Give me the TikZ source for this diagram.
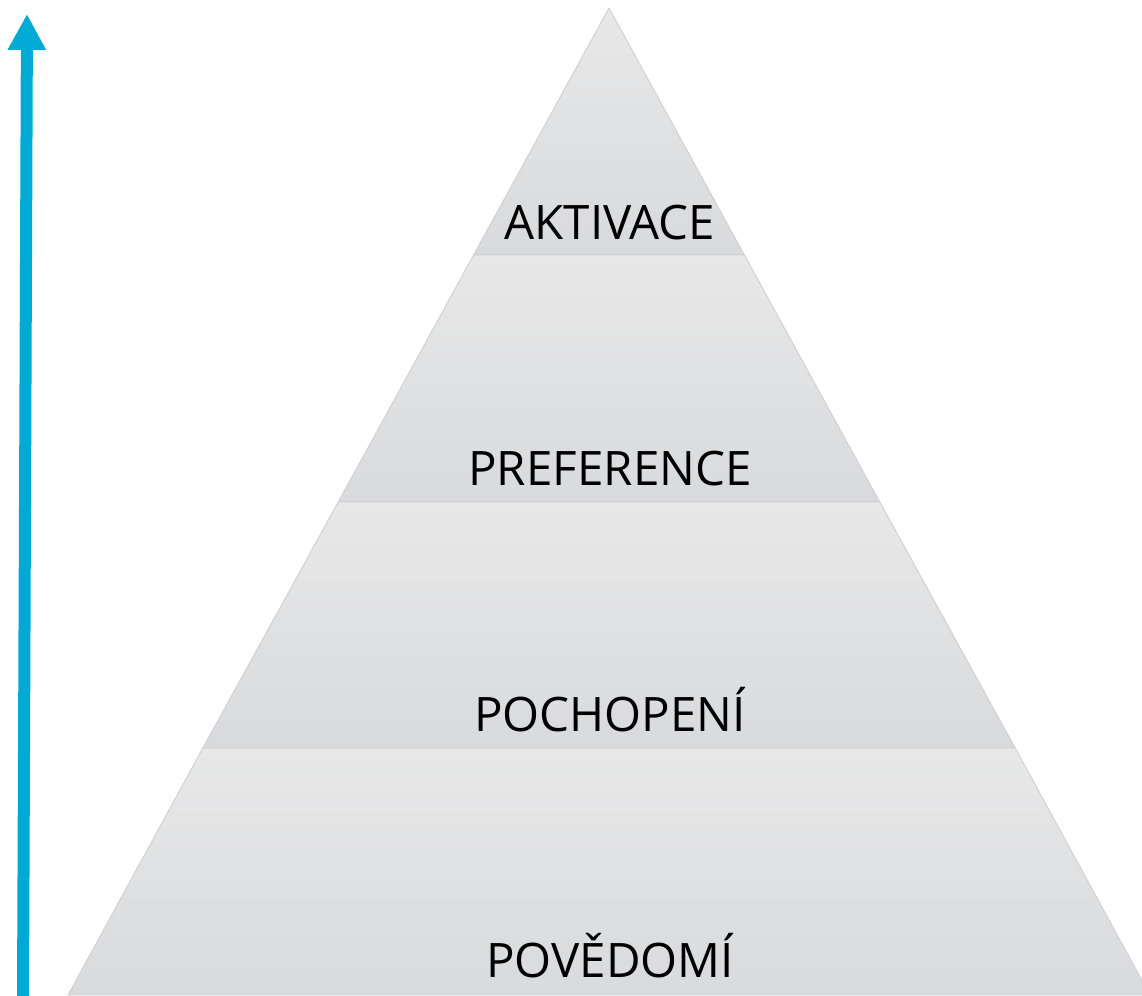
\documentclass[tikz,border=0pt]{standalone}
\usepackage{fontspec}
\setmainfont{Open Sans}
\usetikzlibrary{arrows.meta}
\definecolor{arrowblue}{RGB}{0,170,212}
\definecolor{bandtop}{RGB}{232,232,232}
\definecolor{bandbot}{RGB}{216,218,221}
\definecolor{bandedge}{RGB}{205,205,205}
\tikzset{
  band/.style={top color=bandtop, bottom color=bandbot, draw=bandedge, line width=0.8pt, line join=round},
  lbl/.style={font=\fontsize{47.5}{52}\selectfont, text=black, inner sep=0pt, anchor=base},
  uparrow/.style={draw=arrowblue, line width=12pt, -{Triangle[width=36pt,length=36pt]}}
}
\begin{document}
\begin{tikzpicture}[x=1pt,y=-1pt]
\useasboundingbox (0,0) rectangle (1142,995);
\clip (0,0) rectangle (1142,995);
% pyramid bands
\coordinate (apex) at (609,8);
\coordinate (l1) at (473.6,255); \coordinate (r1) at (744.4,255);
\coordinate (l2) at (338.2,502); \coordinate (r2) at (879.8,502);
\coordinate (l3) at (202.8,748); \coordinate (r3) at (1015.2,748);
\coordinate (l4) at (68,995);    \coordinate (r4) at (1150,995);
\path[band] (apex) -- (r1) -- (l1) -- cycle;
\path[band] (l1) -- (r1) -- (r2) -- (l2) -- cycle;
\path[band] (l2) -- (r2) -- (r3) -- (l3) -- cycle;
\path[band] (l3) -- (r3) -- (r4) -- (l4) -- cycle;
% labels
\node[lbl] (akt) at (610,239.5) {AKTIVACE};
\node[lbl] (pref) at (610,485.5) {PREFERENCE};
\node[lbl] (poch) at (610,731.5) {POCHOPENÍ};
\node[lbl] (pov) at (610,977.5) {POVĚDOMÍ};
% arrow
\coordinate (abot) at (23,1000);
\coordinate (atop) at (27,14);
\draw[uparrow] (abot) -- (atop);
\end{tikzpicture}
\end{document}
